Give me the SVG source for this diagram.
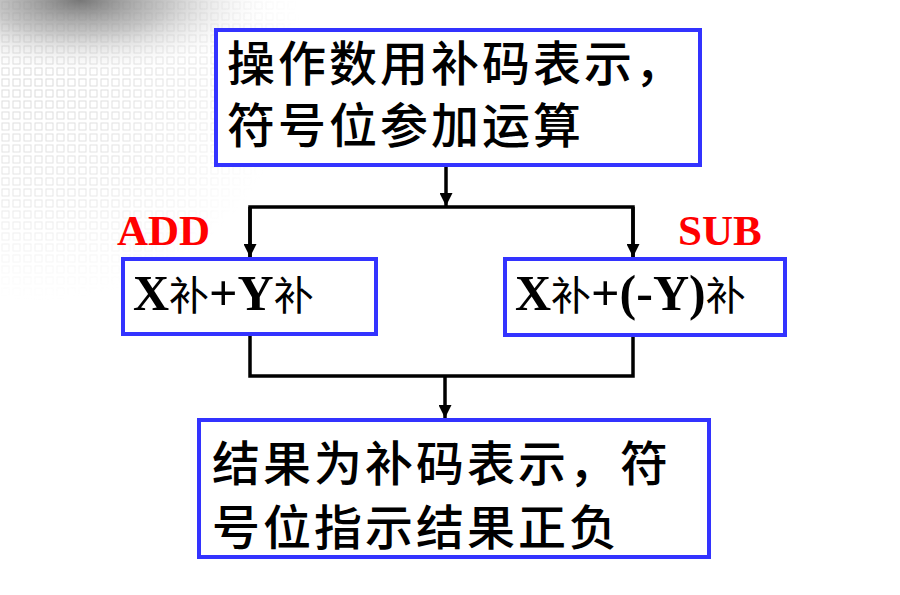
<svg xmlns="http://www.w3.org/2000/svg" width="900" height="595" viewBox="0 0 900 595">
<defs>
<radialGradient id="blob" cx="80" cy="0" r="140" gradientUnits="userSpaceOnUse" gradientTransform="translate(80 0) scale(1.4 0.55) translate(-80 0)">
<stop offset="0" stop-color="#707070" stop-opacity="0.95"/>
<stop offset="0.45" stop-color="#b0b0b0" stop-opacity="0.7"/>
<stop offset="1" stop-color="#ffffff" stop-opacity="0"/>
</radialGradient>
<radialGradient id="gridFade" cx="40" cy="40" r="260" gradientUnits="userSpaceOnUse">
<stop offset="0" stop-color="#fff" stop-opacity="1"/>
<stop offset="0.6" stop-color="#fff" stop-opacity="0.6"/>
<stop offset="1" stop-color="#fff" stop-opacity="0"/>
</radialGradient>
<pattern id="grid" x="0" y="0" width="11" height="11" patternUnits="userSpaceOnUse">
<rect x="2" y="2" width="7" height="7" fill="none" stroke="#d6d6d6" stroke-width="1"/>
</pattern>
<mask id="gm"><rect x="0" y="0" width="320" height="320" fill="url(#gridFade)"/></mask>
<marker id="arr" markerUnits="userSpaceOnUse" markerWidth="13" markerHeight="13" refX="13" refY="6.5" orient="auto">
<path d="M0,0 L13,6.5 L0,13 z" fill="#000"/>
</marker>
<style>
.box{fill:#fff;stroke:#3333ff;stroke-width:4}
.cjk{font-family:"Noto Sans CJK SC","Noto Sans CJK TC",sans-serif;font-size:48px;font-weight:500;letter-spacing:3px;fill:#000}
.lbl{font-family:"Liberation Serif",serif;font-weight:bold;font-size:43px;fill:#ff0000}
.ex{font-family:"Liberation Serif",serif;font-weight:bold;font-size:50px;fill:#000}
.bu{font-family:"Noto Sans CJK SC",sans-serif;font-weight:normal;font-size:40px}
.ln{fill:none;stroke:#000;stroke-width:3.5}
</style>
</defs>
<rect width="900" height="595" fill="#fff"/>
<g id="background">
<rect x="0" y="0" width="320" height="320" fill="url(#grid)" mask="url(#gm)"/>
<rect x="0" y="0" width="320" height="120" fill="url(#blob)"/>
</g>
<g id="connectors">
<line class="ln" x1="446" y1="167" x2="446" y2="206" marker-end="url(#arr)"/>
<polyline class="ln" points="250,257 250,207 633,207 633,257" fill="none"/>
<line class="ln" x1="250" y1="207" x2="250" y2="257" marker-end="url(#arr)"/>
<line class="ln" x1="633" y1="207" x2="633" y2="257" marker-end="url(#arr)"/>
<polyline class="ln" points="250,335 250,376 633,376 633,335"/>
<line class="ln" x1="445" y1="376" x2="445" y2="418" marker-end="url(#arr)"/>
</g>
<g id="top">
<rect class="box" x="216" y="30" width="484" height="135"/>
<text class="cjk"><tspan x="227" y="81">操作数用补码表示，</tspan><tspan x="227" y="143">符号位参加运算</tspan></text>
</g>
<g id="add-label"><text class="lbl" x="117" y="245">ADD</text></g>
<g id="sub-label"><text class="lbl" x="678" y="245">SUB</text></g>
<g id="add">
<rect class="box" x="123" y="259" width="253" height="75"/>
<text class="ex" x="133" y="310">X<tspan class="bu">补</tspan>+Y<tspan class="bu">补</tspan></text>
</g>
<g id="sub">
<rect class="box" x="505" y="259" width="280" height="76"/>
<text class="ex" x="515" y="310">X<tspan class="bu">补</tspan>+(-Y)<tspan class="bu">补</tspan></text>
</g>
<g id="result">
<rect class="box" x="199" y="420" width="510" height="137"/>
<text class="cjk"><tspan x="212" y="481">结果为补码表示，符</tspan><tspan x="212" y="545">号位指示结果正负</tspan></text>
</g>
</svg>
